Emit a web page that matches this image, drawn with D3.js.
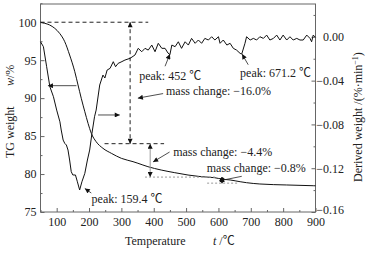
<!DOCTYPE html>
<html>
<head>
<meta charset="utf-8">
<script src="https://cdn.jsdelivr.net/npm/d3@7"></script>
<style>
  body { margin: 0; background: #fff; }
  text { font-family: "Liberation Serif", "Times New Roman", "Noto Sans CJK SC", serif; fill: #222; }
</style>
</head>
<body>
<svg id="chart"></svg>
<script>
// TG curve (left axis, %)
const tgTemp = [50, 63, 78, 94, 109, 125, 140, 156, 166, 176, 187, 197, 207, 222, 243, 269, 300, 336, 351, 382, 423, 465, 506, 547, 588, 614, 636, 667, 687, 728, 811, 893, 900];
const tgWeight = [100, 99.86, 99.64, 99.2, 98.54, 97.43, 95.68, 93.48, 91.73, 89.98, 88.21, 86.68, 85.37, 84.26, 83.39, 82.73, 82.07, 81.63, 81.42, 80.97, 80.53, 80.18, 79.87, 79.65, 79.52, 79.31, 79.22, 78.99, 78.86, 78.69, 78.56, 78.46, 78.45];

// DTG curve (right axis, %/min)
const dtgTemp = [50, 59, 69, 79, 90, 100, 110, 114, 120, 125, 130, 135, 140, 145, 150, 158, 164, 171, 178, 187, 195, 202, 209, 217, 222, 233, 243, 249, 256, 265, 275, 282, 290, 299, 311, 327, 342, 352, 363, 373, 383, 394, 404, 414, 425, 435, 444, 450, 456, 466, 476, 486, 497, 507, 517, 528, 538, 548, 558, 569, 579, 589, 600, 605, 615, 626, 636, 646, 656, 667, 672, 682, 687, 698, 708, 718, 728, 739, 749, 759, 770, 780, 790, 800, 811, 821, 831, 842, 852, 862, 873, 883, 888, 893, 900];
const dtgValue = [-0.0045, -0.0090, -0.0273, -0.0456, -0.0547, -0.0669, -0.0776, -0.0851, -0.0943, -0.0973, -0.0988, -0.1034, -0.1125, -0.1232, -0.1262, -0.1262, -0.1324, -0.1399, -0.1324, -0.1247, -0.1125, -0.1034, -0.0882, -0.0730, -0.0669, -0.0440, -0.0349, -0.0376, -0.0303, -0.0288, -0.0227, -0.0273, -0.0242, -0.0230, -0.0212, -0.0196, -0.0166, -0.0105, -0.0136, -0.0105, -0.0121, -0.0075, -0.0136, -0.0059, -0.0105, -0.0105, -0.0148, -0.0162, -0.0075, -0.0090, -0.0045, -0.0105, -0.0045, -0.0075, -0.0014, -0.0059, -0.0029, -0.0059, -0.0014, -0.0029, 0.0001, -0.0029, 0.0001, -0.0059, -0.0029, -0.0075, -0.0059, -0.0105, -0.0121, -0.0151, -0.0157, -0.0059, 0.0001, -0.0029, -0.0014, -0.0029, 0.0001, -0.0014, 0.0016, -0.0029, -0.0014, 0.0016, -0.0029, 0.0016, -0.0029, 0.0001, -0.0029, -0.0014, -0.0029, -0.0029, 0.0016, -0.0014, -0.0045, 0.0016, -0.0005];

// tick values
const xTicks = [100, 200, 300, 400, 500, 600, 700, 800, 900];
const xMinor = [50, 150, 250, 350, 450, 550, 650, 750, 850];
const leftTicks = [75, 80, 85, 90, 95, 100];
const leftMinor = [77.5, 82.5, 87.5, 92.5, 97.5, 102.5];
const rightTicks = [-0.16, -0.12, -0.08, -0.04, 0.00];
const rightMinor = [-0.14, -0.10, -0.06, -0.02, 0.02];

// mass change steps (temperature of arrow, from, to)
const steps = [
  { t: 327, from: 100, to: 84, color: "#222", dash: "4,3" },
  { t: 389, from: 84, to: 79.6, color: "#999", dash: null },
  { t: 611, from: 79.6, to: 78.8, color: "#222", dash: null }
];
// reference lines [t0, t1, level, dash, color]
const refLines = [
  [50, 383, 100, "4,3", "#222"],
  [248, 432, 84, "4,3", "#222"],
  [373, 591, 79.6, "2,2", "#999"],
  [565, 660, 78.8, "2,2", "#999"]
];
// annotations: text position and leader line (left-axis units)
const notes = [
  { text: "peak: 452 ℃", t: 355, w: 92.4, line: [[435, 94.2], [450, 95.8]] },
  { text: "peak: 671.2 ℃", t: 667, w: 92.8, line: [[692, 94.4], [673, 95.8]] },
  { text: "mass change: −16.0%", t: 438, w: 90.4, line: [[429, 90.6], [351, 90.0]] },
  { text: "mass change: −4.4%", t: 460, w: 82.4, line: [[449, 82.9], [398, 81.6]] },
  { text: "mass change: −0.8%", t: 564, w: 80.25, line: [[672, 79.7], [602, 79.1]] },
  { text: "peak: 159.4 ℃", t: 208, w: 76.2, line: [[207, 77.5], [187, 78.1]] }
];
// curve pointer arrows
const pointers = [
  [[161, 91.64], [73, 91.64]],
  [[228, 87.78], [295, 87.78]]
];

let width = 371, height = 256;
let margin = { top: 4, right: 55.5, bottom: 44, left: 40.5 };

let svg = d3.select("#chart").attr("width", width).attr("height", height);

let x = d3.scaleLinear().domain([50, 900]).range([margin.left, width - margin.right]);
let yL = d3.scaleLinear().domain([75, 102.4]).range([height - margin.bottom, margin.top]);
let yR = d3.scaleLinear().domain([-0.16, 0.03]).range([height - margin.bottom, margin.top]);

let defs = svg.append("defs");
defs.append("marker")
  .attr("id", "head")
  .attr("viewBox", "0 0 10 10")
  .attr("refX", 10).attr("refY", 5)
  .attr("markerUnits", "userSpaceOnUse")
  .attr("markerWidth", 6).attr("markerHeight", 5)
  .attr("orient", "auto-start-reverse")
  .append("path").attr("d", "M0,0L10,5L0,10Z").attr("fill", "#111");

// axes with inward ticks
let bottom = height - margin.bottom, right = width - margin.right;
let axisColor = "#666";

function styleAxis(g) {
  g.select(".domain").remove();
  g.selectAll("line").attr("stroke", axisColor);
  g.selectAll("text").style("font-size", "12px").style("font-family", "Liberation Serif, serif").attr("fill", "#222");
}

svg.append("g").attr("transform", `translate(0,${bottom})`)
  .call(d3.axisBottom(x).tickValues(xTicks).tickSize(-4).tickPadding(5).tickFormat(d3.format("d")))
  .call(styleAxis);
svg.append("g").attr("transform", `translate(0,${bottom})`)
  .call(d3.axisBottom(x).tickValues(xMinor).tickSize(-2).tickFormat(""))
  .call(styleAxis);

svg.append("g").attr("transform", `translate(${margin.left},0)`)
  .call(d3.axisLeft(yL).tickValues(leftTicks).tickSize(-4).tickPadding(4).tickFormat(d3.format("d")))
  .call(styleAxis);
svg.append("g").attr("transform", `translate(${margin.left},0)`)
  .call(d3.axisLeft(yL).tickValues(leftMinor).tickSize(-2).tickFormat(""))
  .call(styleAxis);

// right axis labels are right-aligned; the lowest one sits a touch higher to clear the 900 label
svg.append("g").attr("transform", `translate(${right},0)`)
  .call(d3.axisRight(yR).tickValues(rightTicks).tickSize(-4).tickFormat(d3.format(".2f")))
  .call(styleAxis)
  .selectAll("text").attr("x", 28.5).attr("text-anchor", "end")
  .attr("dy", d => d === -0.16 ? "0.1em" : "0.32em");
svg.append("g").attr("transform", `translate(${right},0)`)
  .call(d3.axisRight(yR).tickValues(rightMinor).tickSize(-2).tickFormat(""))
  .call(styleAxis);

// frame
svg.append("rect")
  .attr("x", margin.left).attr("y", margin.top)
  .attr("width", right - margin.left).attr("height", bottom - margin.top)
  .attr("fill", "none").attr("stroke", axisColor).attr("stroke-width", 1);

// curves
let tgLine = d3.line().x(i => x(tgTemp[i])).y(i => yL(tgWeight[i])).curve(d3.curveMonotoneX);
let dtgLine = d3.line().x(i => x(dtgTemp[i])).y(i => yR(dtgValue[i]));

svg.append("path").attr("d", tgLine(d3.range(tgTemp.length)))
  .attr("fill", "none").attr("stroke", "#111").attr("stroke-width", 1);
svg.append("path").attr("d", dtgLine(d3.range(dtgTemp.length)))
  .attr("fill", "none").attr("stroke", "#111").attr("stroke-width", 1);

// reference lines
svg.selectAll(".ref").data(refLines).join("line")
  .attr("x1", d => x(d[0])).attr("x2", d => x(d[1]))
  .attr("y1", d => yL(d[2])).attr("y2", d => yL(d[2]))
  .attr("stroke", d => d[4]).attr("stroke-dasharray", d => d[3]).attr("stroke-width", 1);

// mass change double arrows
svg.selectAll(".step").data(steps).join("line")
  .attr("x1", d => x(d.t)).attr("x2", d => x(d.t))
  .attr("y1", d => yL(d.from)).attr("y2", d => yL(d.to))
  .attr("stroke", d => d.color).attr("stroke-dasharray", d => d.dash)
  .attr("stroke-width", (d, i) => i === 2 ? 1.5 : 1)
  .attr("marker-start", "url(#head)").attr("marker-end", "url(#head)");

// pointers from curves to their axes
svg.selectAll(".ptr").data(pointers).join("line")
  .attr("x1", d => x(d[0][0])).attr("y1", d => yL(d[0][1]))
  .attr("x2", d => x(d[1][0])).attr("y2", d => yL(d[1][1]))
  .attr("stroke", "#222").attr("stroke-width", 0.8)
  .attr("marker-end", "url(#head)");

// annotations
svg.selectAll(".lead").data(notes).join("line")
  .attr("x1", d => x(d.line[0][0])).attr("y1", d => yL(d.line[0][1]))
  .attr("x2", d => x(d.line[1][0])).attr("y2", d => yL(d.line[1][1]))
  .attr("stroke", "#222").attr("stroke-width", 0.8)
  .attr("marker-end", "url(#head)");

svg.selectAll(".note").data(notes).join("text")
  .attr("x", d => x(d.t)).attr("y", d => yL(d.w))
  .style("font-size", "12px")
  .text(d => d.text);

// axis titles
let lt = svg.append("text").attr("transform", "translate(14,158) rotate(-90)").style("font-size", "12px");
lt.append("tspan").text("TG weight");
svg.append("text").attr("transform", "translate(14,86) rotate(-90)").style("font-size", "12px")
  .append("tspan").style("font-style", "italic").text("w");
svg.append("text").attr("transform", "translate(14,78) rotate(-90)").style("font-size", "12px").text(" /%");

let rt = svg.append("text").attr("transform", "translate(362,182) rotate(-90)").style("font-size", "12px");
rt.append("tspan").text("Derived weight /(%·min");
rt.append("tspan").attr("dy", -4).style("font-size", "8px").text("−1");
rt.append("tspan").attr("dy", 4).text(")");

svg.append("text").attr("x", 125).attr("y", 245).style("font-size", "12px").text("Temperature");
let xt = svg.append("text").attr("x", 213).attr("y", 245).style("font-size", "12px");
xt.append("tspan").style("font-style", "italic").text("t");
xt.append("tspan").text(" /℃");
</script>
</body>
</html>
